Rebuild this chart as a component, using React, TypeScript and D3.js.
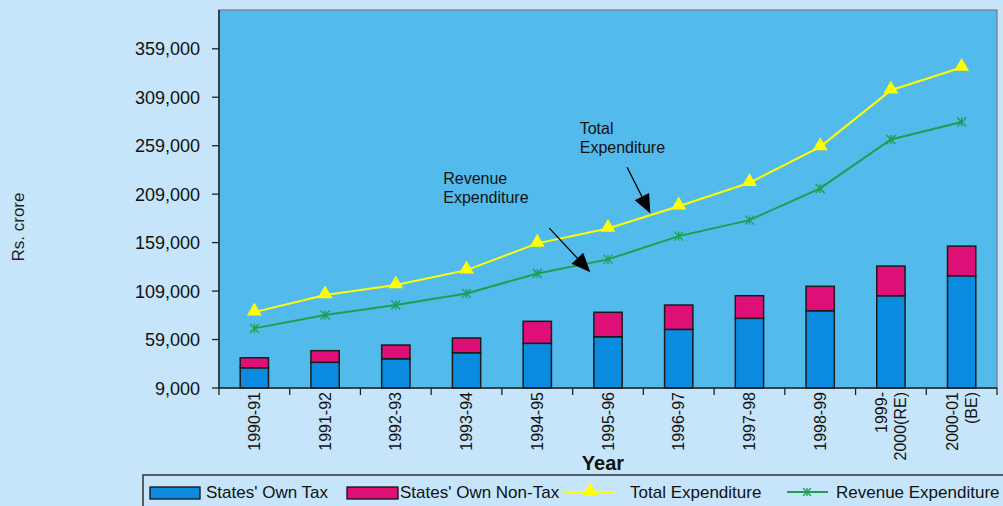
import React from "react";
import * as d3 from "d3";

const categories = ["1990-91", "1991-92", "1992-93", "1993-94", "1994-95", "1995-96", "1996-97", "1997-98", "1998-99", "1999-2000(RE)", "2000-01(BE)"];
const categoryLines = [["1990-91"], ["1991-92"], ["1992-93"], ["1993-94"], ["1994-95"], ["1995-96"], ["1996-97"], ["1997-98"], ["1998-99"], ["1999-", "2000(RE)"], ["2000-01", "(BE)"]];
const ownTax = [29900, 35500, 39200, 45400, 55100, 61900, 69500, 80900, 88700, 104200, 124800];
const ownNonTax = [10300, 12000, 14100, 15200, 22700, 25200, 25100, 23300, 25200, 30600, 30600];
const totalExpenditure = [87300, 104900, 115200, 130600, 158200, 173600, 196600, 220700, 257800, 316200, 339600];
const revenueExpenditure = [70500, 84300, 94600, 106600, 127200, 141700, 165700, 182200, 214900, 265400, 283500];
const yTicks = [9000, 59000, 109000, 159000, 209000, 259000, 309000, 359000];

const W = 1003, H = 506;
const L = 219, R = 997, T = 10, B = 388;
const FONT = "'Liberation Sans', Arial, sans-serif";
const C = { bg: "#c6e5fa", plot: "#53bbeb", tax: "#0a8be0", nonTax: "#de1078", total: "#ffff00", rev: "#19a150" };

export default function App() {
  const x = d3.scaleBand().domain(categories).range([L, R]).paddingInner(0.6).paddingOuter(0.3);
  const xi = d3.scaleLinear().domain([-0.5, categories.length - 0.5]).range([L, R]);
  const y = d3.scaleLinear().domain([9000, 399000]).range([B, T]);
  const step = x.step();
  const cx = (c: string) => (x(c) as number) + x.bandwidth() / 2;
  const lineGen = d3.line<number>().x((_, i) => cx(categories[i])).y((v) => y(v));
  const tri = d3.symbol().type(d3.symbolTriangle).size(95)();

  const star = (px: number, py: number, key: string, s = 4.5) => (
    <g key={key} stroke={C.rev} strokeWidth={1.3}>
      <line x1={px - s} y1={py - s} x2={px + s} y2={py + s} />
      <line x1={px - s} y1={py + s} x2={px + s} y2={py - s} />
      <line x1={px} y1={py - s} x2={px} y2={py + s} />
    </g>
  );

  const arrow = (x0: number, y0: number, x1: number, y1: number, key: string) => {
    const ang = Math.atan2(y1 - y0, x1 - x0);
    const len = 19, wid = 8;
    const bx = x1 - len * Math.cos(ang), by = y1 - len * Math.sin(ang);
    const nx = -Math.sin(ang) * wid, ny = Math.cos(ang) * wid;
    return (
      <g key={key}>
        <line x1={x0} y1={y0} x2={bx} y2={by} stroke="#000" strokeWidth={1.3} />
        <path d={`M${x1},${y1}L${bx + nx},${by + ny}L${bx - nx},${by - ny}Z`} fill="#000" />
      </g>
    );
  };

  return (
    <svg width={W} height={H} style={{ position: "absolute", left: 0, top: 0 }} fontFamily={FONT}>
      <rect x={0} y={0} width={W} height={H} fill={C.bg} />
      <rect x={L} y={T} width={R - L} height={B - T} fill={C.plot} stroke="#7a7a7a" strokeWidth={1.2} />

      {/* bars */}
      {categories.map((c, i) => (
        <g key={c} stroke="#1a1a1a" strokeWidth={1.5}>
          <rect x={x(c)} y={y(ownTax[i])} width={x.bandwidth()} height={B - y(ownTax[i])} fill={C.tax} />
          <rect x={x(c)} y={y(ownTax[i] + ownNonTax[i])} width={x.bandwidth()} height={y(ownTax[i]) - y(ownTax[i] + ownNonTax[i])} fill={C.nonTax} />
        </g>
      ))}

      {/* lines */}
      <path d={lineGen(totalExpenditure) || ""} fill="none" stroke={C.total} strokeWidth={2} />
      <path d={lineGen(revenueExpenditure) || ""} fill="none" stroke={C.rev} strokeWidth={2} />
      {totalExpenditure.map((v, i) => (
        <path key={"t" + i} d={tri} transform={`translate(${cx(categories[i])},${y(v) - 1})`} fill={C.total} />
      ))}
      {revenueExpenditure.map((v, i) => star(cx(categories[i]), y(v), "r" + i))}

      {/* y axis */}
      <line x1={L} y1={T} x2={L} y2={B} stroke="#222" strokeWidth={1.5} />
      {yTicks.map((t) => (
        <g key={t}>
          <line x1={L - 7} x2={L} y1={y(t)} y2={y(t)} stroke="#222" strokeWidth={1.3} />
          <text x={200} y={y(t) + 6.5} textAnchor="end" fontSize={18} fill="#111">{d3.format(",")(t)}</text>
        </g>
      ))}

      {/* x axis */}
      <line x1={L} y1={B} x2={R} y2={B} stroke="#222" strokeWidth={1.5} />
      {d3.range(categories.length + 1).map((k) => (
        <line key={k} x1={L + k * step} x2={L + k * step} y1={B} y2={B + 7} stroke="#222" strokeWidth={1.3} />
      ))}
      {categories.map((c, i) => {
        const lines = categoryLines[i];
        return lines.map((ln, j) => (
          <text key={c + j} transform={`translate(${cx(c) + (j - (lines.length - 1) / 2) * 19},${B + 4}) rotate(-90)`}
            textAnchor="end" dominantBaseline="central" fontSize={16} fill="#111">{ln}</text>
        ));
      })}

      {/* axis titles */}
      <text x={603} y={470} textAnchor="middle" fontSize={20} fontWeight="bold" fill="#111">Year</text>
      <text transform="translate(18,227) rotate(-90)" textAnchor="middle" dominantBaseline="central" fontSize={17} fill="#222">Rs. crore</text>

      {/* annotations */}
      <text fontSize={16} fill="#111">
        <tspan x={xi(4.6)} y={y(271000)}>Total</tspan>
        <tspan x={xi(4.6)} y={y(251000)}>Expenditure</tspan>
      </text>
      <text fontSize={16} fill="#111">
        <tspan x={xi(2.67)} y={y(219500)}>Revenue</tspan>
        <tspan x={xi(2.67)} y={y(200000)}>Expenditure</tspan>
      </text>
      {arrow(xi(5.27), y(236800), xi(5.6), y(189000), "a1")}
      {arrow(xi(4.17), y(174000), xi(4.75), y(128500), "a2")}

      {/* legend */}
      <rect x={143} y={475} width={880} height={60} fill={C.bg} stroke="#333" strokeWidth={1.5} />
      <rect x={150} y={487} width={50} height={12} fill={C.tax} stroke="#111" strokeWidth={1.3} />
      <text x={206} y={498} fontSize={17} fill="#111">States' Own Tax</text>
      <rect x={347} y={487} width={51} height={12} fill={C.nonTax} stroke="#111" strokeWidth={1.3} />
      <text x={400} y={498} fontSize={17} fill="#111">States' Own Non-Tax</text>
      <line x1={564} x2={614} y1={492} y2={492} stroke={C.total} strokeWidth={2} />
      <path d={tri} transform="translate(590,491)" fill={C.total} />
      <text x={630} y={498} fontSize={17} fill="#111">Total Expenditure</text>
      <line x1={787} x2={828} y1={492} y2={492} stroke={C.rev} strokeWidth={2} />
      {star(807, 492, "lg", 4)}
      <text x={836} y={498} fontSize={17} fill="#111">Revenue Expenditure</text>
    </svg>
  );
}
